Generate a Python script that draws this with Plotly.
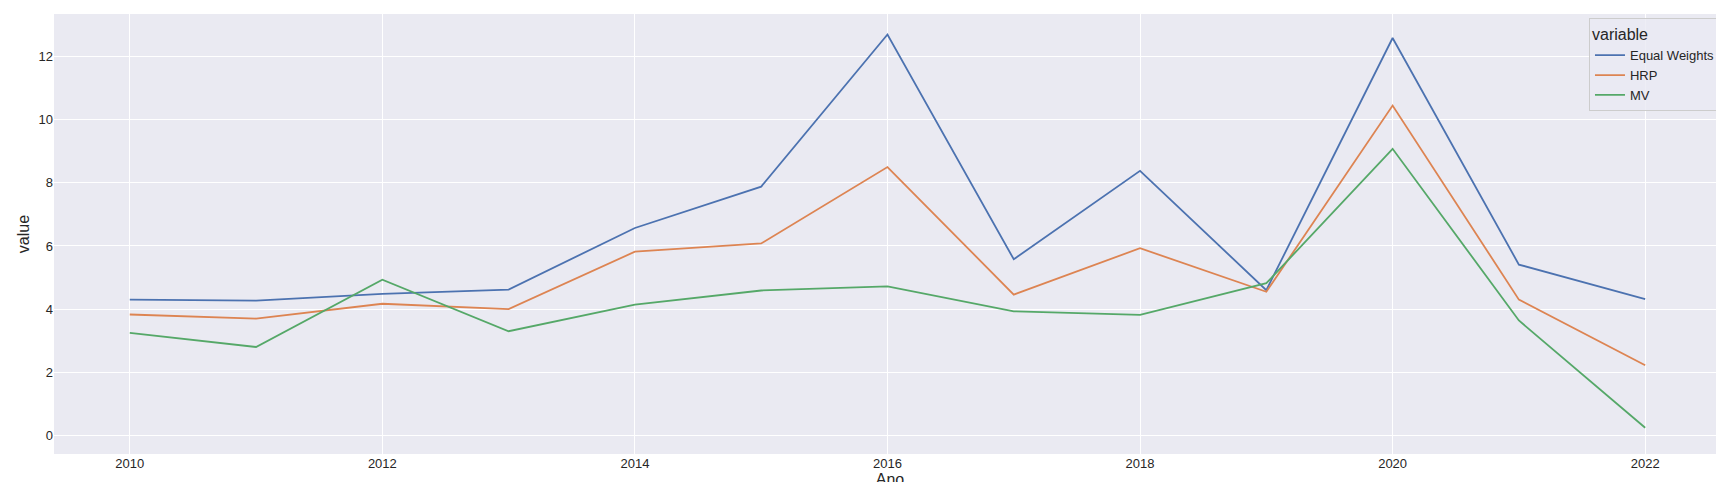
import plotly.graph_objects as go

anos = list(range(2010, 2023))
equal_weights = [4.30, 4.27, 4.48, 4.62, 6.57, 7.88, 12.70, 5.58, 8.38, 4.60, 12.59, 5.41, 4.32]
hrp = [3.83, 3.70, 4.17, 4.00, 5.82, 6.08, 8.50, 4.46, 5.93, 4.55, 10.45, 4.30, 2.22]
mv = [3.25, 2.80, 4.93, 3.30, 4.14, 4.59, 4.72, 3.93, 3.82, 4.82, 9.08, 3.64, 0.24]

series = {"Equal Weights": (equal_weights, "#4C72B0"),
          "HRP": (hrp, "#DD8452"),
          "MV": (mv, "#55A868")}

fig = go.Figure()
for name, (vals, color) in series.items():
    fig.add_trace(go.Scatter(x=anos, y=vals, mode="lines", name=name,
                             line=dict(color=color, width=1.8)))

fig.update_layout(
    width=1724, height=482,
    margin=dict(l=46, r=6, t=6, b=34),
    plot_bgcolor="#EAEAF2", paper_bgcolor="white",
    font=dict(family="Liberation Sans, Arial", size=13, color="#262626"),
    legend=dict(title=dict(text="variable"), x=0.997, y=0.99, xanchor="right", yanchor="top",
                bgcolor="rgba(234,234,242,0.8)", bordercolor="#CCCCCC", borderwidth=1),
    showlegend=True,
)
fig.update_xaxes(title_text="Ano", range=[2009.4, 2022.64], tickvals=list(range(2010, 2023, 2)),
                 gridcolor="white", gridwidth=1.3, zeroline=False, title_standoff=2)
fig.update_yaxes(title_text="value", range=[-0.59, 13.35], tickvals=list(range(0, 13, 2)),
                 gridcolor="white", gridwidth=1.3, zeroline=False, title_standoff=4)

fig.write_html("out.html")
